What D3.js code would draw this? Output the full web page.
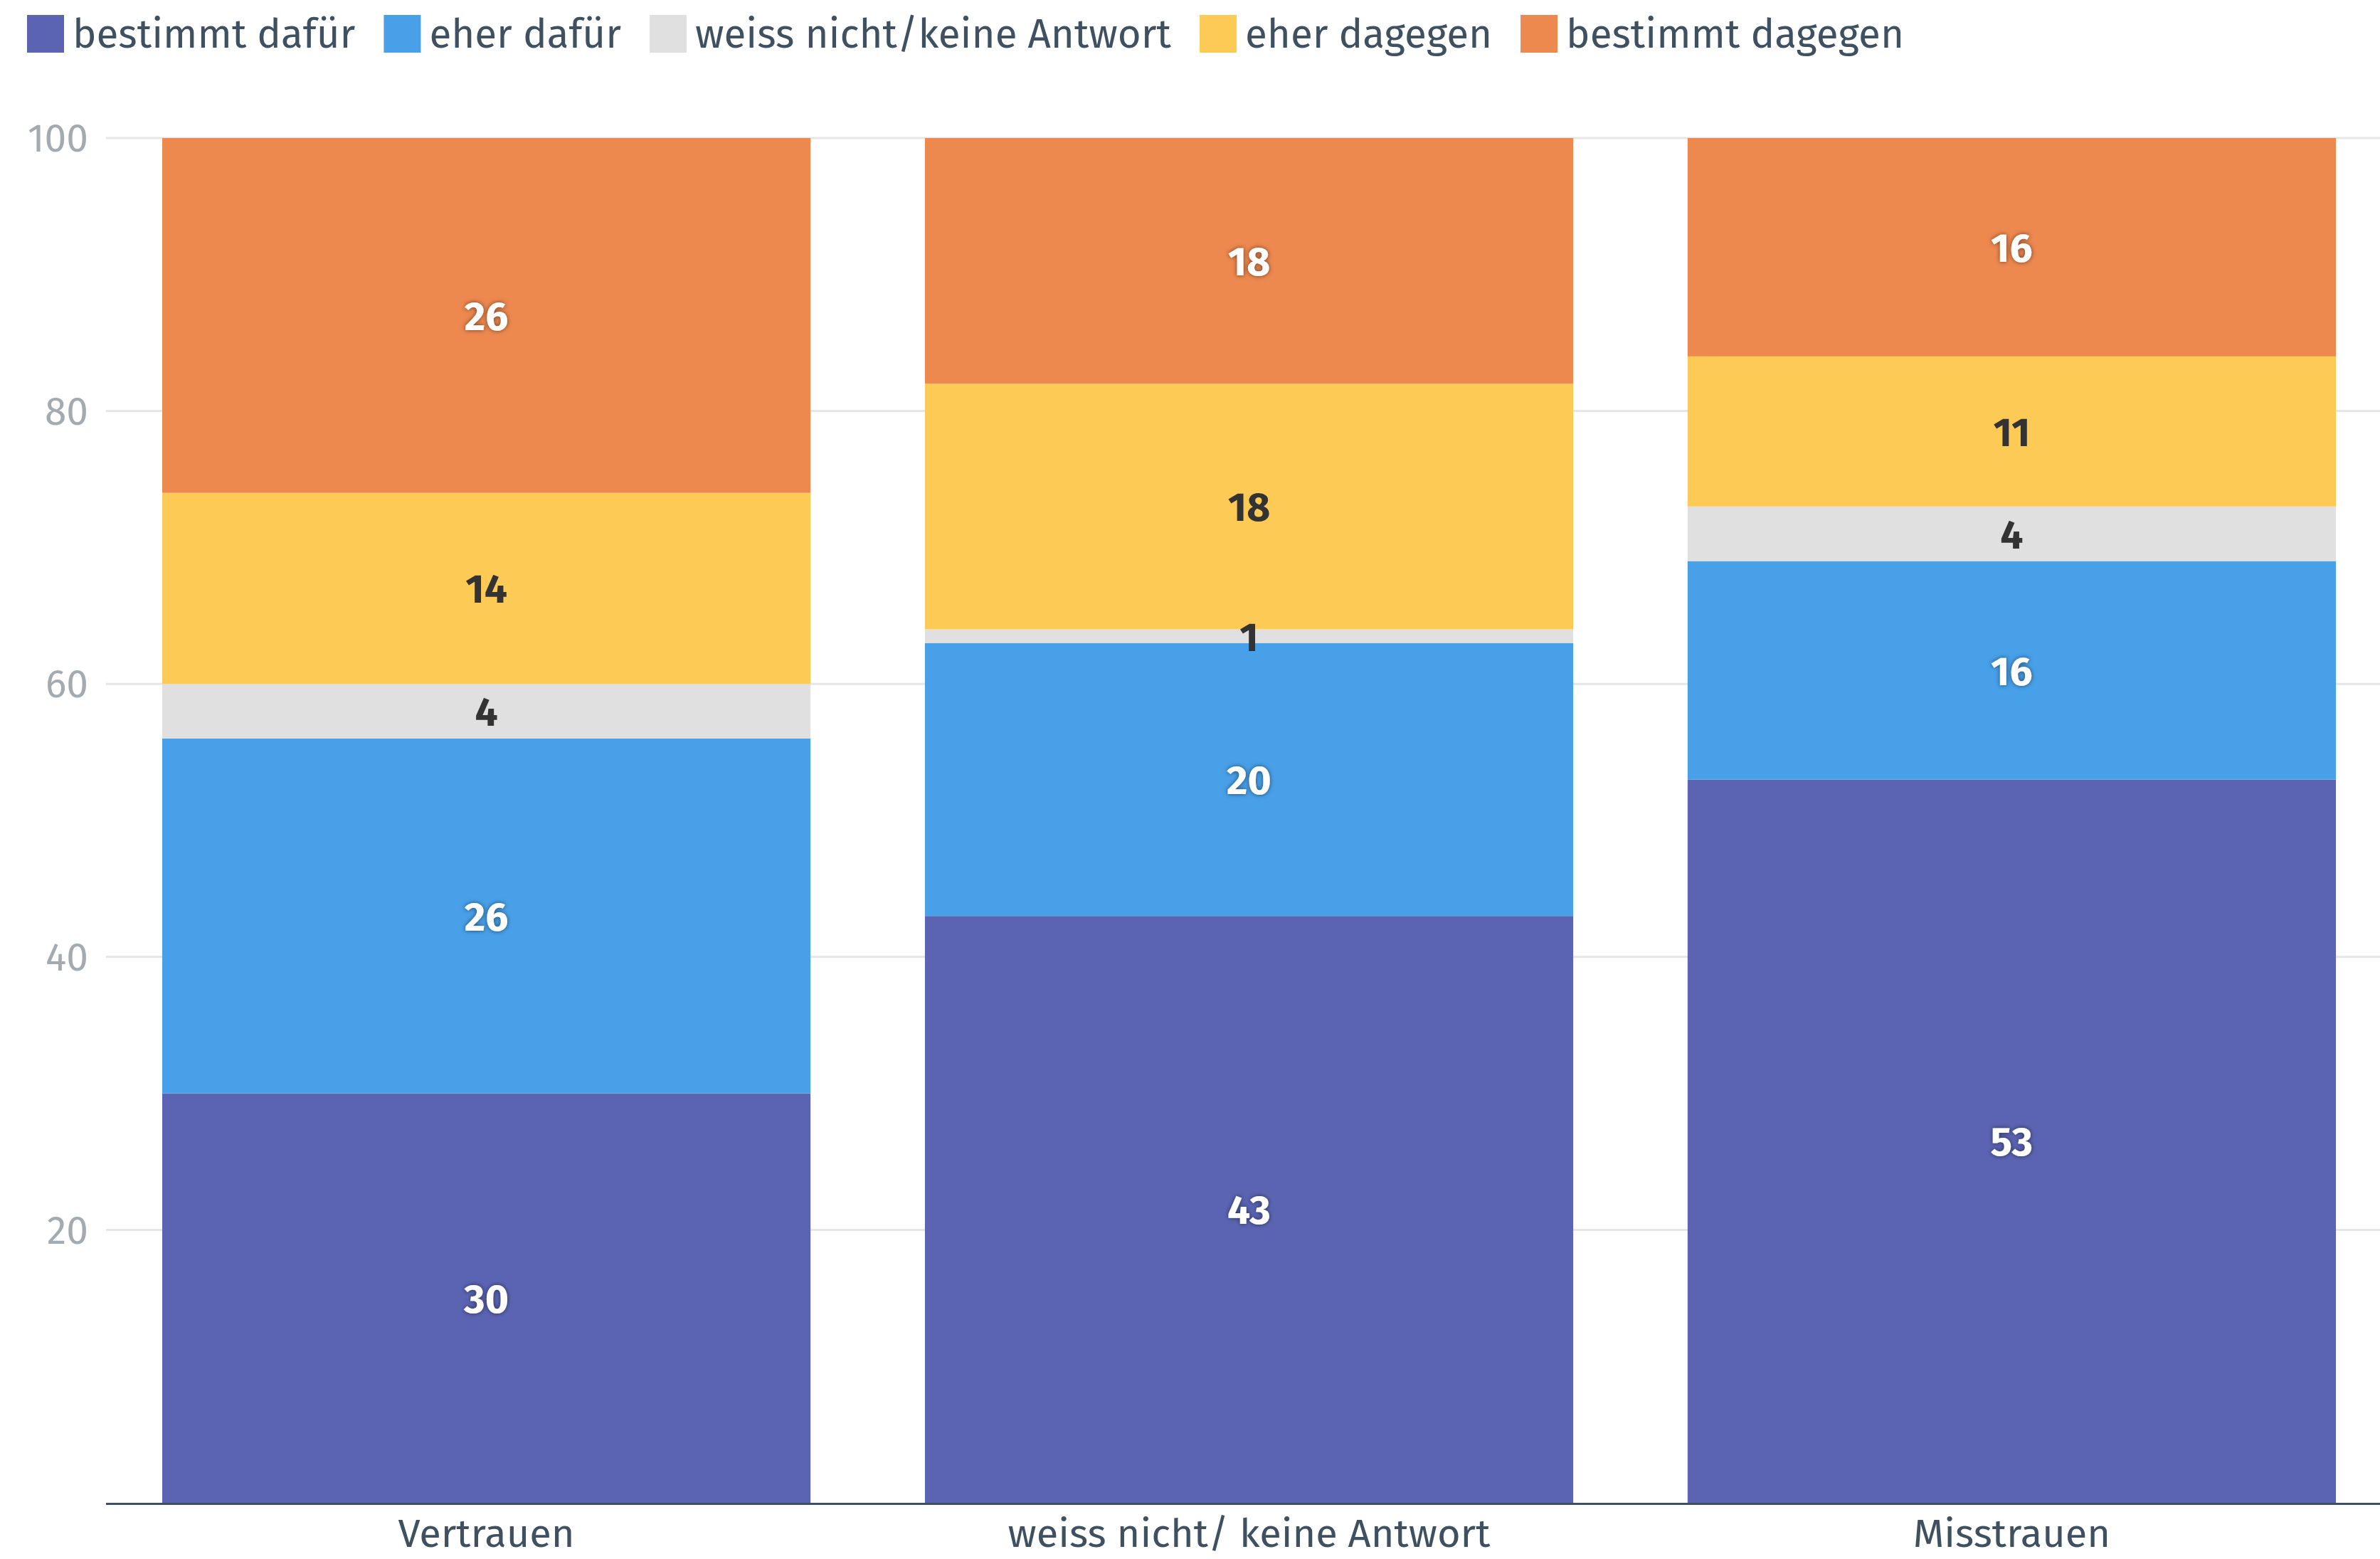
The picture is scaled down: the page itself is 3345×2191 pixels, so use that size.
<!DOCTYPE html>
<html>
<head>
<meta charset="utf-8">
<script src="https://cdn.jsdelivr.net/npm/d3@7"></script>
<style>
  html, body { margin: 0; padding: 0; background: #ffffff; }
  svg { display: block; }
  text { font-family: "Fira Sans", "Noto Sans", "Open Sans", sans-serif; }
</style>
</head>
<body>
<svg id="chart" width="3345" height="2191"></svg>
<script>
// ---- data ----
const categories = ["Vertrauen", "weiss nicht/ keine Antwort", "Misstrauen"];
const seriesNames = ["bestimmt dafür", "eher dafür", "weiss nicht/keine Antwort", "eher dagegen", "bestimmt dagegen"];
const bestimmtDafuer   = [30, 43, 53];
const eherDafuer       = [26, 20, 16];
const weissNicht       = [4, 1, 4];
const eherDagegen      = [14, 18, 11];
const bestimmtDagegen  = [26, 18, 16];
const yTicks = [20, 40, 60, 80, 100];

const seriesValues = [bestimmtDafuer, eherDafuer, weissNicht, eherDagegen, bestimmtDagegen];
const colors = ["#5a64b2", "#48a0e8", "#e0e0e0", "#fdcb55", "#ed884f"];
const labelDark = [false, false, true, true, false];

// ---- layout ----
const W = 3345, H = 2191;
const plotLeft = 149, plotRight = 3362, plotTop = 194, plotBottom = 2112;
const svg = d3.select("#chart");

const defs = svg.append("defs");
const f = defs.append("filter").attr("id", "shadow").attr("x", "-30%").attr("y", "-30%").attr("width", "160%").attr("height", "160%");
f.append("feDropShadow").attr("dx", 0).attr("dy", 0).attr("stdDeviation", 3).attr("flood-color", "#000").attr("flood-opacity", 0.55);

const x = d3.scaleBand().domain(categories).range([plotLeft, plotRight]).paddingInner(0.15).paddingOuter(0.0737);
const y = d3.scaleLinear().domain([0, 100]).range([plotBottom, plotTop]);

// gridlines
svg.append("g").selectAll("line").data(yTicks).join("line")
  .attr("x1", plotLeft).attr("x2", W)
  .attr("y1", d => y(d)).attr("y2", d => y(d))
  .attr("stroke", "#e6e6e6").attr("stroke-width", 3);

// y tick labels
svg.append("g").selectAll("text").data(yTicks).join("text")
  .attr("x", 124).attr("y", d => y(d)).attr("dy", "0.35em")
  .attr("text-anchor", "end")
  .attr("fill", "#a3abb1").attr("font-size", 55)
  .text(d => d);

// stacked data
const table = categories.map((c, i) => {
  const o = { category: c };
  seriesNames.forEach((s, j) => o[s] = seriesValues[j][i]);
  return o;
});
const stack = d3.stack().keys(seriesNames)(table);

const gBars = svg.append("g");
stack.forEach((layer, j) => {
  gBars.append("g").selectAll("rect").data(layer).join("rect")
    .attr("x", d => x(d.data.category))
    .attr("width", x.bandwidth())
    .attr("y", d => y(d[1]))
    .attr("height", d => y(d[0]) - y(d[1]))
    .attr("fill", colors[j]);
});

// data labels
stack.forEach((layer, j) => {
  svg.append("g").selectAll("text").data(layer).join("text")
    .attr("x", d => x(d.data.category) + x.bandwidth() / 2)
    .attr("y", d => y((d[0] + d[1]) / 2))
    .attr("dy", "0.36em")
    .attr("text-anchor", "middle")
    .attr("font-size", 57).attr("font-weight", "bold")
    .attr("fill", labelDark[j] ? "#333333" : "#ffffff")
    .attr("filter", labelDark[j] ? null : "url(#shadow)")
    .text(d => d[1] - d[0]);
});

// x axis line
svg.append("line")
  .attr("x1", plotLeft).attr("x2", W)
  .attr("y1", y(0) + 1.5).attr("y2", y(0) + 1.5)
  .attr("stroke", "#3f5161").attr("stroke-width", 3);

// x axis labels
svg.append("g").selectAll("text").data(categories).join("text")
  .attr("x", d => x(d) + x.bandwidth() / 2)
  .attr("y", 2174)
  .attr("text-anchor", "middle")
  .attr("fill", "#3f5161").attr("font-size", 56)
  .text(d => d);

// legend
const legend = svg.append("g");
let lx = 38;
seriesNames.forEach((s, j) => {
  const g = legend.append("g");
  g.append("rect").attr("x", lx).attr("y", 21).attr("width", 52).attr("height", 53).attr("fill", colors[j]);
  const t = g.append("text").attr("x", lx + 64).attr("y", 47).attr("dy", "0.35em")
    .attr("fill", "#3f5161").attr("font-size", 56.5).text(s);
  lx += 64 + t.node().getComputedTextLength() + 40;
});
</script>
</body>
</html>
